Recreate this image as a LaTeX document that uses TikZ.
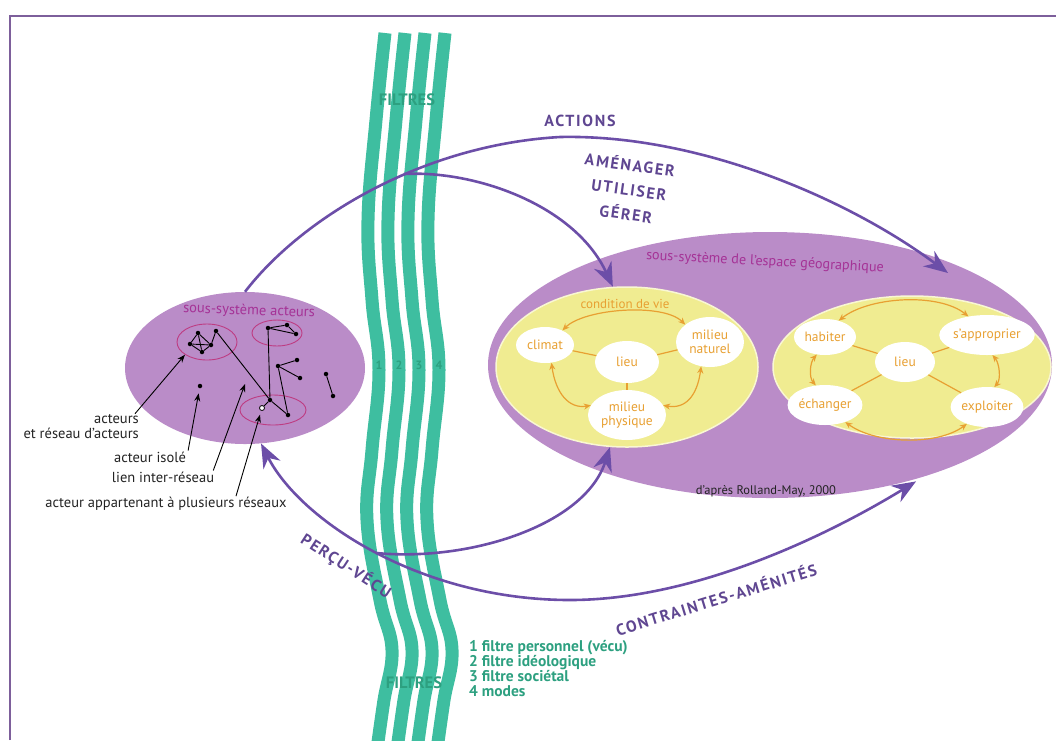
\documentclass[tikz,border=0pt]{standalone}
\usepackage{fontspec}
\setmainfont{PT Sans}
\newfontfamily\spacedcaps[LetterSpace=11]{PT Sans}
\usetikzlibrary{shapes.geometric,arrows.meta}

\definecolor{ellviolet}{RGB}{186,140,200}
\definecolor{arrowviolet}{RGB}{108,78,168}
\definecolor{capsviolet}{RGB}{95,70,145}
\definecolor{titlemagenta}{RGB}{165,50,150}
\definecolor{pale}{RGB}{240,236,145}
\definecolor{ochre}{RGB}{232,160,50}
\definecolor{filtre}{RGB}{62,190,160}
\definecolor{filtretext}{RGB}{45,160,128}
\definecolor{frameviolet}{RGB}{125,95,155}
\definecolor{ringred}{RGB}{190,60,130}
\definecolor{labelgray}{RGB}{35,35,35}

\tikzset{
  zone/.style={ellipse, inner sep=0pt, fill=ellviolet},
  yolk/.style={ellipse, inner sep=0pt, fill=pale, draw=pale!40!white, line width=1.5pt},
  spot/.style={ellipse, inner sep=0pt, fill=white, text=ochre, align=center,
    font=\fontsize{13.5}{14}\selectfont},
  ring/.style={ellipse, inner sep=0pt, draw=ringred, line width=0.9pt},
  actor/.style={circle, fill=black, inner sep=0pt, minimum size=4.5pt},
  lbl/.style={text=labelgray, inner sep=1pt, font=\fontsize{14.5}{15}\selectfont},
  bigarrow/.style={draw=arrowviolet, line width=2.6pt, -{Stealth[length=24pt,width=19pt]}},
  pointer/.style={draw=black, line width=0.9pt, -{Stealth[length=8pt,width=6pt]}},
  tie/.style={draw=ochre, line width=1.2pt},
  swap/.style={draw=ochre, line width=1.2pt, {Stealth[length=7pt,width=6pt]}-{Stealth[length=7pt,width=6pt]}},
  capsword/.style={text=capsviolet, font=\spacedcaps\bfseries\fontsize{16}{17}\selectfont, inner sep=1pt},
  filtre band/.style={draw=filtre, line width=13pt}
}

\begin{document}
\begin{tikzpicture}[x=1pt,y=-1pt]
\useasboundingbox (0,0) rectangle (1056,740);

% Draw the frame
\draw[frameviolet, line width=2pt] (10,740) |- (1056,16);

% Draw the four filters
\foreach \k in {0,1,2,3} {
  \draw[filtre band, xshift=\k*20pt] plot[smooth, tension=0.7] coordinates
    {(385,33) (376,120) (368,220) (372,300) (379,370) (372,450) (367,520) (380,600) (392,650) (384,700) (378,742)};
}
\foreach \k/\n in {0/1,1/2,2/3,3/4} {
  \node[text=filtretext, font=\bfseries\fontsize{12}{12}\selectfont] (num\n) at (379+\k*20,365) {\n};
}
\node[text=filtretext, font=\bfseries\fontsize{16.5}{17}\selectfont] (filtreshaut) at (407,100) {FILTRES};
\node[text=filtretext, font=\bfseries\fontsize{16.5}{17}\selectfont] (filtresbas) at (414,683) {FILTRES};

% Draw the legend of the filters
\node[anchor=north west, align=left, text=filtretext, inner sep=0pt,
      font=\bfseries\fontsize{15.5}{15}\selectfont] (legende) at (469,640)
  {1 filtre personnel (vécu)\\2 filtre idéologique\\3 filtre sociétal\\4 modes};

% Draw the actors subsystem
\node[zone, minimum width=240pt, minimum height=152pt] (acteurs) at (245,368) {};
\node[text=titlemagenta, font=\fontsize{14.5}{15}\selectfont, rotate=-2] (titreacteurs) at (249,311) {sous-système acteurs};
\node[ring, minimum width=60pt, minimum height=36pt] (ring1) at (207,342) {};
\node[ring, minimum width=50pt, minimum height=26pt] (ring2) at (277,333) {};
\node[ring, minimum width=66pt, minimum height=30pt] (ring3) at (273,410) {};

% the actors
\foreach \name/\pos in {a/{(198,333)}, b/{(190,344)}, c/{(202,352)}, d/{(211,345)}, e/{(216,331)},
    j/{(270,400)}, k/{(288,415)}, g/{(268,328)}, h/{(287,325)}, i/{(296,334)},
    m/{(278,366)}, p/{(297,360)}, q/{(300,378)}, r/{(326,374)}, s/{(333,396)}, iso/{(200,386)}} {
  \node[actor] (\name) at \pos {};
}
\node[circle, draw=black, fill=white, line width=0.8pt, inner sep=0pt, minimum size=5pt] (hollow) at (262,408) {};
\foreach \u/\v in {a/b, b/c, c/d, d/a, a/c, b/d, d/e, e/j, j/k, j/hollow, j/g, g/h, g/i, h/i, m/p, m/q, m/k, r/s} {
  \draw[line width=0.9pt] (\u) -- (\v);
}

% Draw the labels of the actors
\coordinate (lientip) at (245,384);
\node[lbl, align=right, anchor=east] (reseau) at (140,427) {acteurs\\et réseau d'acteurs};
\node[lbl] (isole) at (150,457) {acteur isolé};
\node[lbl] (lien) at (163,477) {lien inter-réseau};
\node[lbl] (appart) at (166,504) {acteur appartenant à plusieurs réseaux};
\draw[pointer] ([xshift=-5pt]reseau.north east) -- (ring1.210);
\draw[pointer, shorten >=5pt] ([xshift=1pt]isole.north east) -- (iso);
\draw[pointer] ([xshift=-2pt]lien.north east) -- (lientip);
\draw[pointer, shorten >=4pt] ([xshift=70pt]appart.north) -- (hollow);

% Draw the subsystem of the geographic space
\node[zone, minimum width=564pt, minimum height=266pt] (geo) at (770,365) {};
\node[text=titlemagenta, font=\fontsize{14.2}{15}\selectfont, rotate=-3] (titregeo) at (765,262) {sous-système de l'espace géographique};
\node[font=\fontsize{12.5}{13}\selectfont, text=labelgray] (source) at (766,491) {d'après Rolland-May, 2000};

% the left yolk
\node[yolk, minimum width=262pt, minimum height=160pt] (ymid) at (627,367) {};
\node[text=ochre, font=\fontsize{13}{14}\selectfont] (condition) at (625,304) {condition de vie};
\node[spot, minimum width=58pt, minimum height=36pt] (climat) at (545,345) {climat};
\node[spot, minimum width=64pt, minimum height=42pt] (lieu) at (627,362) {lieu};
\node[spot, minimum width=68pt, minimum height=50pt] (naturel) at (710,342) {milieu\\naturel};
\node[spot, minimum width=78pt, minimum height=50pt] (physique) at (627,415) {milieu\\physique};
\draw[tie] (climat) -- (lieu);
\draw[tie] (lieu) -- (naturel);
\draw[tie] (lieu) -- (physique);
\draw[swap] (climat.40) .. controls +(22,-22) and +(-22,-22) .. (naturel.145);
\draw[swap] (climat.-70) .. controls +(4,30) and +(-22,4) .. (physique.165);
\draw[swap] (naturel.-110) .. controls +(-4,30) and +(22,4) .. (physique.15);

% the right yolk
\node[yolk, minimum width=278pt, minimum height=142pt] (yright) at (912,367) {};
\node[spot, minimum width=62pt, minimum height=36pt] (habiter) at (825,337) {habiter};
\node[spot, minimum width=90pt, minimum height=40pt] (approprier) at (987,335) {s'approprier};
\node[spot, minimum width=60pt, minimum height=40pt] (lieudeux) at (905,362) {lieu};
\node[spot, minimum width=70pt, minimum height=40pt] (echanger) at (825,405) {échanger};
\node[spot, minimum width=72pt, minimum height=40pt] (exploiter) at (987,407) {exploiter};
\foreach \v in {habiter, approprier, echanger, exploiter} {
  \draw[tie] (lieudeux) -- (\v);
}
\draw[swap] (habiter.50) .. controls +(30,-24) and +(-30,-24) .. (approprier.135);
\draw[swap] (echanger.-40) .. controls +(30,22) and +(-30,22) .. (exploiter.-140);
\draw[swap] (habiter.-115) .. controls +(-7,8) and +(-7,-8) .. (echanger.115);
\draw[swap] (approprier.-75) .. controls +(7,8) and +(7,-8) .. (exploiter.70);

% Draw the arrows between the subsystems
\coordinate (split) at (404,174);
\coordinate (merge) at (376,553);
\coordinate (actiontip) at (948,273);
\draw[bigarrow] (acteurs.north) .. controls (300,220) and (420,145) .. (560,137)
  .. controls (700,134) and (850,200) .. (actiontip);
\draw[bigarrow] (split) .. controls (475,170) and (575,205) .. (ymid.100);
\draw[bigarrow, {Stealth[length=24pt,width=19pt]}-{Stealth[length=24pt,width=19pt]}, shorten >=9pt]
  (acteurs.-78) .. controls (300,520) and (420,600) .. (570,600)
  .. controls (690,600) and (820,540) .. (geo.-36);
\draw[bigarrow] (merge) .. controls (470,562) and (585,525) .. (ymid.-102);

% Draw the words on the arrows
\node[capsword] (actions) at (580,121) {ACTIONS};
\node[capsword, rotate=-8] (amenager) at (630,164) {AMÉNAGER};
\node[capsword, rotate=-8] (utiliser) at (629,190) {UTILISER};
\node[capsword, rotate=-8] (gerer) at (626,213) {GÉRER};
\node[capsword, rotate=-33] (percu) at (346,566) {PERÇU-VÉCU};
\node[capsword, rotate=17] (contraintes) at (716,599) {CONTRAINTES-AMÉNITÉS};

\end{tikzpicture}
\end{document}
